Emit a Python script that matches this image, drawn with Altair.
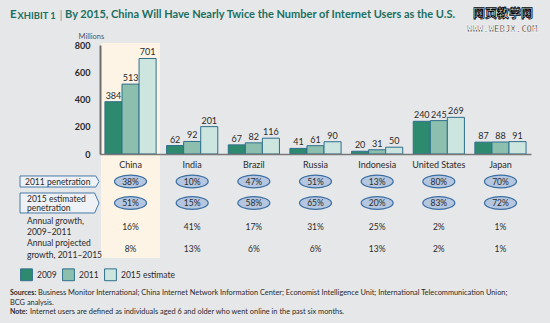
import altair as alt
import pandas as pd

countries = ["China", "India", "Brazil", "Russia", "Indonesia", "United States", "Japan"]
years = ["2009", "2011", "2015 estimate"]
users_2009 = [384, 62, 67, 41, 20, 240, 87]
users_2011 = [513, 92, 82, 61, 31, 245, 88]
users_2015 = [701, 201, 116, 90, 50, 269, 91]
pen_2011 = ["38%", "10%", "47%", "51%", "13%", "80%", "70%"]
pen_2015 = ["51%", "15%", "58%", "65%", "20%", "83%", "72%"]
growth_0911 = ["16%", "41%", "17%", "31%", "25%", "2%", "1%"]
growth_1115 = ["8%", "13%", "6%", "6%", "13%", "2%", "1%"]
y_ticks = [0, 200, 400, 600, 800]
highlighted = ["China"]
year_colors = ["#2e8a6e", "#8cbfae", "#cde5df"]

FONT = "Lato"
TEAL = "#1b6f60"
DARK = "#2a2a2a"

rows = []
for vals, yr in zip([users_2009, users_2011, users_2015], years):
    for c, v in zip(countries, vals):
        rows.append({"country": c, "year": yr, "users": v})
bars_df = pd.DataFrame(rows)

table_df = pd.DataFrame({
    "country": countries,
    "pen2011": pen_2011,
    "pen2015": pen_2015,
    "g0911": growth_0911,
    "g1115": growth_1115,
    "hl": [c in highlighted for c in countries],
})
one = pd.DataFrame({"a": [0]})

x_enc = alt.X("country:N", sort=countries,
              scale=alt.Scale(paddingInner=0.17, paddingOuter=0.08),
              axis=alt.Axis(title=None, labelAngle=0, ticks=False, labelPadding=6,
                            labelFontSize=9, labelColor=DARK, labelFont=FONT,
                            labelBaseline="top",
                            domainColor="#777777", domainWidth=1.5, zindex=1))
y_enc = alt.Y("users:Q", scale=alt.Scale(domain=[0, 800], nice=False),
              axis=alt.Axis(values=y_ticks, ticks=False, grid=False,
                            labelOverlap=False, labelFlush=False,
                            labelPadding=10, labelFontSize=9, labelColor=DARK,
                            labelFont=FONT, labelFontWeight="bold",
                            domainColor="#6d6d6d", domainWidth=2, zindex=1,
                            title="Millions", titleAngle=0, titleX=-22, titleY=-9,
                            titleAlign="left", titleBaseline="middle",
                            titleFontSize=7.5, titleFontWeight="normal",
                            titleColor="#555555", titleFont=FONT))

base_t = alt.Chart(table_df)

highlight = base_t.transform_filter("datum.hl").mark_bar(
    width=59, color="#fdf4e6").encode(
    x=x_enc, y=alt.value(-2), y2=alt.value(213))

bars = alt.Chart(bars_df).mark_bar(stroke="#2f6f8c", strokeWidth=1).encode(
    x=x_enc,
    xOffset=alt.XOffset("year:N", sort=years, scale=alt.Scale(paddingInner=0)),
    y=y_enc,
    color=alt.Color("year:N", sort=years,
                    scale=alt.Scale(domain=years, range=year_colors),
                    legend=alt.Legend(title=None, orient="none", direction="horizontal",
                                      legendX=-80, legendY=223, symbolType="square",
                                      symbolSize=140, symbolStrokeColor="#2f6f8c",
                                      symbolStrokeWidth=1, symbolOpacity=1,
                                      labelFontSize=8.5, labelFont=FONT,
                                      labelColor=DARK, columnPadding=3,
                                      labelOffset=4)),
)

bar_labels = alt.Chart(bars_df).mark_text(dy=-6, fontSize=9, font=FONT, color=DARK).encode(
    x=x_enc,
    xOffset=alt.XOffset("year:N", sort=years, scale=alt.Scale(paddingInner=0)),
    y=y_enc,
    text="users:Q",
)

ellipse = "M -1 0 A 1 0.4 0 1 0 1 0 A 1 0.4 0 1 0 -1 0 Z"


def ellipse_row(field, ypix):
    e = base_t.mark_point(shape=ellipse, size=1024, filled=True, fill="#b4c6e0",
                          stroke="#3b6fa3", strokeWidth=1.2, opacity=1).encode(
        x=x_enc, y=alt.value(ypix))
    t = base_t.mark_text(fontSize=8.5, font=FONT, color=DARK).encode(
        x=x_enc, y=alt.value(ypix), text=f"{field}:N")
    return e + t


def text_row(field, ypix):
    return base_t.mark_text(fontSize=8.5, font=FONT, color=DARK).encode(
        x=x_enc, y=alt.value(ypix), text=f"{field}:N")


box1 = "M -1 -0.14 L 0.92 -0.14 L 1 0 L 0.92 0.14 L -1 0.14 Z"
box2 = "M -1 -0.253 L 0.89 -0.253 L 1 0 L 0.89 0.253 L -1 0.253 Z"

ann = alt.Chart(one)


def label_box(path, ypix):
    return ann.mark_point(shape=path, size=6241, filled=True, fill="#eef1f5",
                          stroke="#4a7aa8", strokeWidth=1, opacity=1).encode(
        x=alt.value(-40.5), y=alt.value(ypix))


def txt(text, x, y, size=8.5, weight="normal", color=DARK, align="left",
        baseline="middle", font=FONT, lh=None, **kw):
    props = dict(fontSize=size, fontWeight=weight, color=color, align=align,
                 baseline=baseline, font=font, **kw)
    if lh is not None:
        props["lineHeight"] = lh
        props["lineBreak"] = "\n"
    return ann.mark_text(**props).encode(x=alt.value(x), y=alt.value(y),
                                        text=alt.value(text))


layers = [
    highlight,
    bars,
    bar_labels,
    label_box(box1, 136.5),
    label_box(box2, 158),
    txt("2011 penetration", -75, 136.5),
    txt("2015 estimated\npenetration", -73, 153.5, lh=9.5),
    txt("Annual growth,\n2009–2011", -73, 175.5, lh=11),
    txt("Annual projected\ngrowth, 2011–2015", -73, 198, lh=11.5),
    ellipse_row("pen2011", 136.5),
    ellipse_row("pen2015", 158),
    text_row("g0911", 182),
    text_row("g1115", 204),
    # title
    txt("E", -90, -30, size=11.5, weight="bold", color=TEAL),
    txt("XHIBIT 1", -82.5, -29.5, size=9.4, weight="bold", color=TEAL),
    txt("|", -40.5, -30, size=12, color="#6aa79a"),
    txt("By 2015, China Will Have Nearly Twice the Number of Internet Users as the U.S.",
        -35, -30, size=11.0, weight="bold", color=TEAL),
    # watermark
    txt("网页教学网", 373, -31, size=12, weight="bold", color="white",
        font="Noto Sans CJK SC", stroke="black", strokeWidth=0.8),
    txt("WWW.WEBJX.COM", 367, -16.5, size=9, weight="bold", color="black",
        font="DejaVu Sans Mono", stroke="white", strokeWidth=0.6),
    # footer
    txt("Sources:", -90, 248, size=7, weight="bold"),
    txt("Business Monitor International; China Internet Network Information Center; "
        "Economist Intelligence Unit; International Telecommunication Union;",
        -62, 248, size=7.4),
    txt("BCG analysis.", -90, 257.5, size=7.4),
    txt("Note:", -90, 267, size=7, weight="bold"),
    txt("Internet users are defined as individuals aged 6 and older who went online "
        "in the past six months.", -70, 267, size=7.4),
]

chart = alt.layer(*layers).properties(
    width=431, height=109,
    autosize=alt.AutoSizeParams(type="none"),
    padding={"left": 100, "top": 45, "right": 19, "bottom": 169},
    background="#e6e7e9",
).configure_view(stroke=None)

chart.save("out.html", embed_options={"renderer": "svg", "actions": False})
